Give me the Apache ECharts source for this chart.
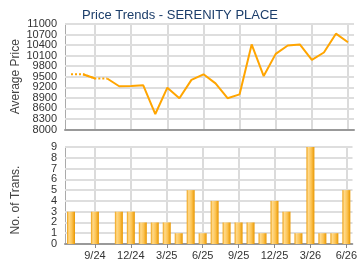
<!DOCTYPE html>
<html><head><meta charset="utf-8">
<script src="https://cdn.jsdelivr.net/npm/echarts@6/dist/echarts.min.js"></script>
<style>html,body{margin:0;padding:0;background:#fff}#c{width:360px;height:270px}</style>
</head><body><div id="c"></div>
<script>
var months = ['7/24','8/24','9/24','10/24','11/24','12/24','1/25','2/25','3/25','4/25','5/25','6/25','7/25','8/25','9/25','10/25','11/25','12/25','1/26','2/26','3/26','4/26','5/26','6/26'];
var avgPrice = [9570,9570,9450,9450,9230,9240,9255,8440,9190,8890,9410,9570,9313,8890,9000,10420,9520,10150,10390,10420,9980,10190,10725,10480];
var transactions = [3,0,3,0,3,3,2,2,2,1,5,1,4,2,2,2,1,4,3,1,9,1,1,5];
var priceTicks = ['8000','8300','8600','8900','9200','9500','9800','10100','10400','10700','11000'];
var transTicks = ['0','1','2','3','4','5','6','7','8','9'];
// segments drawn dotted where a month had no transactions (value carried over)
var dottedIdx = [0,1,2,3];
var titleText = 'Price Trends - SERENITY PLACE';

function pick(arr, from, to){ return arr.map(function(v,i){ return (i>=from && i<=to) ? v : null; }); }
function showLabel(i){ return i % 3 === 2; }

var FONT = 'Liberation Sans, Arial, sans-serif';
var axisFont = {fontFamily:FONT, fontSize:11, color:'#333'};
var barGrad = new echarts.graphic.LinearGradient(0,0,1,0,[
  {offset:0,color:'#eea010'},{offset:0.25,color:'#ffd98a'},{offset:0.6,color:'#fcc455'},{offset:1,color:'#e99700'}]);

function labelAxis(grid, ticks){
  return {type:'category',gridIndex:grid,data:ticks,boundaryGap:false,position:'left',
    axisLine:{show:false},axisTick:{show:false},splitLine:{show:false},
    axisLabel:Object.assign({interval:0,margin:8},axisFont)};
}
function gridLines(ticks){
  return {silent:true,symbol:'none',z:1,label:{show:false},
    lineStyle:{color:'#dedede',width:2,type:'solid'},
    emphasis:{disabled:true},
    data:ticks.map(function(t){ return {yAxis:Number(t)}; })};
}

var chart = echarts.init(document.getElementById('c'), null, {renderer:'canvas'});
chart.setOption({
  animation:false,
  title:{text:titleText,left:'center',top:4,textStyle:{fontFamily:FONT,fontSize:13,fontWeight:'normal',color:'#1b3d6a'}},
  grid:[{left:65,right:6,top:24,height:105.5},{left:65,right:6,top:147,height:97}],
  xAxis:[
    {type:'category',gridIndex:0,data:months,boundaryGap:true,
     axisLine:{lineStyle:{color:'#999',width:2}},axisTick:{show:false},axisLabel:{show:false},
     splitLine:{show:true,alignWithLabel:true,interval:function(i){return showLabel(i);},lineStyle:{color:'#cfcfcf',width:1.5}}},
    {type:'category',gridIndex:1,data:months,boundaryGap:true,
     axisLine:{lineStyle:{color:'#999',width:2}},
     axisTick:{show:true,alignWithLabel:true,length:4,interval:function(i){return showLabel(i);},lineStyle:{color:'#888'}},
     axisLabel:Object.assign({interval:function(i){return showLabel(i);},margin:6},axisFont),
     splitLine:{show:true,alignWithLabel:true,interval:function(i){return showLabel(i);},lineStyle:{color:'#cfcfcf',width:1.5}}}
  ],
  yAxis:[
    {type:'value',gridIndex:0,min:8000,max:11000,interval:300,position:'left',
     name:'Average Price',nameLocation:'middle',nameGap:43,nameTextStyle:{fontFamily:FONT,fontSize:12,color:'#444'},
     axisLine:{show:true,lineStyle:{color:'#aaa',width:1}},axisTick:{show:false},axisLabel:{show:false},
     splitLine:{show:true,lineStyle:{color:'#dedede',width:2}}},
    {type:'value',gridIndex:1,min:0,max:9,interval:1,position:'left',
     name:'No. of Trans.',nameLocation:'middle',nameGap:43,nameTextStyle:{fontFamily:FONT,fontSize:12,color:'#444',padding:[0,9,0,0]},
     axisLine:{show:true,lineStyle:{color:'#aaa',width:1}},axisTick:{show:false},axisLabel:{show:false},
     splitLine:{show:true,lineStyle:{color:'#dedede',width:2}}},
    labelAxis(0, priceTicks),
    labelAxis(1, transTicks)
  ],
  series:[
    {type:'line',xAxisIndex:0,yAxisIndex:0,data:[],symbol:'none',z:0,markLine:gridLines(priceTicks.slice(1))},
    {type:'line',xAxisIndex:1,yAxisIndex:1,data:[],symbol:'none',z:0,markLine:gridLines(transTicks.slice(1))},
    {type:'line',xAxisIndex:0,yAxisIndex:0,data:pick(avgPrice,dottedIdx[0],dottedIdx[dottedIdx.length-1]),symbol:'none',
     lineStyle:{color:'#ffa500',width:2,type:[2,2]},z:2},
    {type:'line',xAxisIndex:0,yAxisIndex:0,data:pick(avgPrice,1,2),symbol:'none',lineStyle:{color:'#ffa500',width:2},z:3},
    {type:'line',xAxisIndex:0,yAxisIndex:0,data:pick(avgPrice,3,23),symbol:'none',lineStyle:{color:'#ffa500',width:2},z:3},
    {type:'bar',xAxisIndex:1,yAxisIndex:1,data:transactions,barWidth:8,z:2,
     itemStyle:{color:barGrad}}
  ]
});
</script></body></html>
